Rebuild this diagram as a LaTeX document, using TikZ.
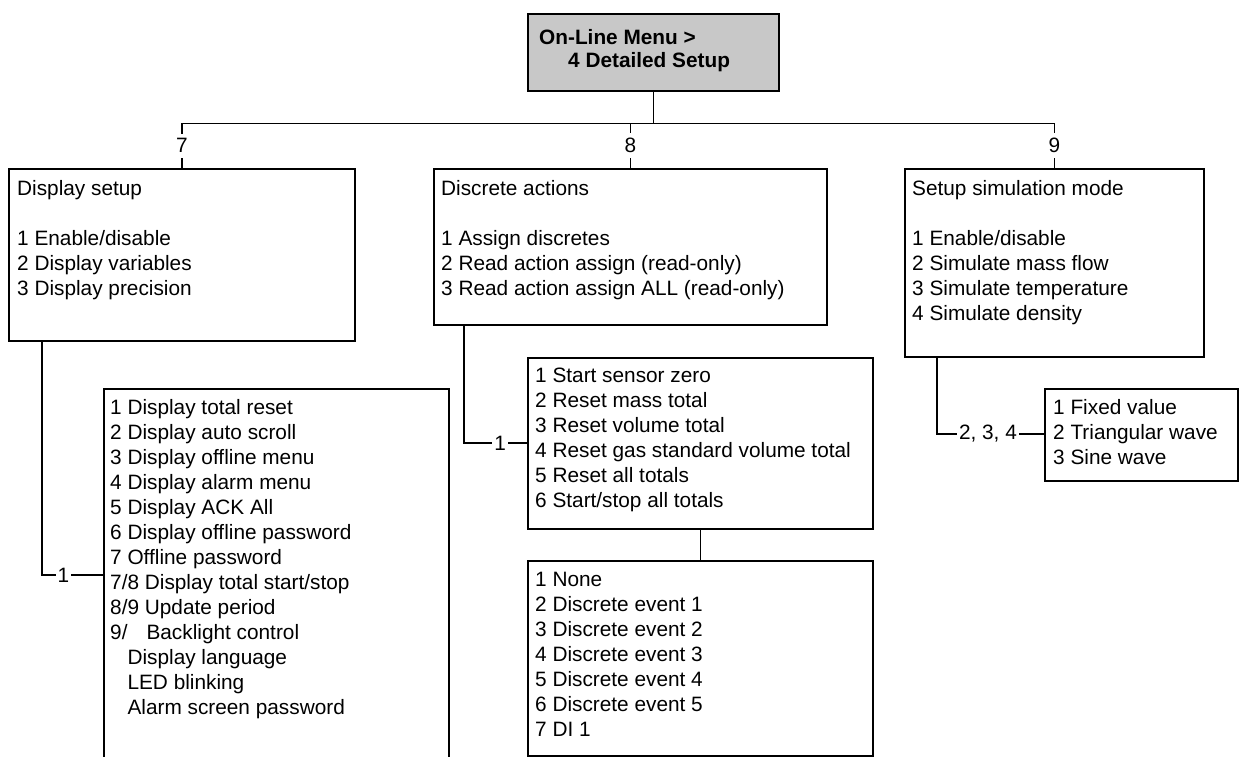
\documentclass[tikz,border=0pt]{standalone}
\usepackage{fontspec}
\setmainfont{Liberation Sans}
\definecolor{topgray}{RGB}{200,200,200}
\begin{document}
\begin{tikzpicture}[x=1pt,y=-1pt,
  box/.style={draw, line width=1.6pt, rectangle, inner sep=0pt, anchor=north west},
  txt/.style={anchor=north west, align=left, inner sep=0pt, font=\fontsize{20.8}{25}\selectfont},
  ttl/.style={anchor=base west, inner sep=0pt, font=\fontsize{20.8}{25}\selectfont\bfseries},
  conn/.style={line width=1.6pt},
  lbl/.style={fill=white, inner xsep=2pt, inner ysep=5pt, font=\fontsize{20.8}{25}\selectfont}]
\useasboundingbox (0,0) rectangle (1240,757);
\clip (0,0) rectangle (1240,757);

% boxes
\node[box, fill=topgray, minimum width=251pt, minimum height=77pt] (top) at (527,13) {};
\node[box, minimum width=346pt, minimum height=172pt] (ds) at (8,168) {};
\node[box, minimum width=393pt, minimum height=156pt] (da) at (433,168) {};
\node[box, minimum width=299pt, minimum height=188pt] (sim) at (904,168) {};
\node[box, minimum width=345pt, minimum height=400pt] (dl) at (103,388) {};
\node[box, minimum width=345pt, minimum height=171pt] (sm) at (527,357) {};
\node[box, minimum width=345pt, minimum height=195pt] (ev) at (527,560) {};
\node[box, minimum width=193pt, minimum height=92pt] (sw) at (1044,388) {};

% texts
\node[ttl] (topa) at (539,45) {On-Line Menu >};
\node[ttl] (topb) at (568,68) {4 Detailed Setup};

\node[txt] (dst) at ([xshift=9pt,yshift=-9.5pt]ds.north west)
  {\strut Display setup\\[25pt]1 Enable/disable\\2 Display variables\\3 Display precision};
\node[txt] (dat) at ([xshift=8pt,yshift=-9.5pt]da.north west)
  {\strut Discrete actions\\[25pt]1 Assign discretes\\2 Read action assign (read-only)\\3 Read action assign ALL (read-only)};
\node[txt] (simt) at ([xshift=8pt,yshift=-9.5pt]sim.north west)
  {\strut Setup simulation mode\\[25pt]1 Enable/disable\\2 Simulate mass flow\\3 Simulate temperature\\4 Simulate density};
\node[txt] (dlt) at ([xshift=7pt,yshift=-8.5pt]dl.north west)
  {\strut 1 Display total reset\\2 Display auto scroll\\3 Display offline menu\\4 Display alarm menu\\5 Display ACK All\\6 Display offline password\\7 Offline password\\7/8 Display total start/stop\\8/9 Update period\\9/\hspace{19pt}Backlight control\\\hphantom{1}\ Display language\\\hphantom{1}\ LED blinking\\\hphantom{1}\ Alarm screen password};
\node[txt] (smt) at ([xshift=8pt,yshift=-7.5pt]sm.north west)
  {\strut 1 Start sensor zero\\2 Reset mass total\\3 Reset volume total\\4 Reset gas standard volume total\\5 Reset all totals\\6 Start/stop all totals};
\node[txt] (evt) at ([xshift=8pt,yshift=-8.5pt]ev.north west)
  {\strut 1 None\\2 Discrete event 1\\3 Discrete event 2\\4 Discrete event 3\\5 Discrete event 4\\6 Discrete event 5\\7 DI 1};
\node[txt] (swt) at ([xshift=9pt,yshift=-8.5pt]sw.north west)
  {\strut 1 Fixed value\\2 Triangular wave\\3 Sine wave};

% connectors
\coordinate (bus) at ([yshift=-32pt]top.south);
\draw[conn] (top.south) -- (bus);
\draw[conn] (ds.north) -- node[lbl]{7} (ds.north |- bus) -- (sim.north |- bus) -- node[lbl]{9} (sim.north);
\draw[conn] (da.north |- bus) -- node[lbl]{8} (da.north);

\draw[conn] ([xshift=34pt]ds.south west) |- node[lbl, pos=0.676]{1} ([yshift=-187pt]dl.north west);
\draw[conn] ([xshift=31pt]da.south west) |- node[lbl, pos=0.786]{1} ([yshift=-86pt]sm.north west);
\draw[conn] ([xshift=33pt]sim.south west) |- node[lbl, pos=0.738]{2, 3, 4} ([yshift=-46pt]sw.north west);
\draw[conn] (sm.south) -- (ev.north);
\end{tikzpicture}
\end{document}
